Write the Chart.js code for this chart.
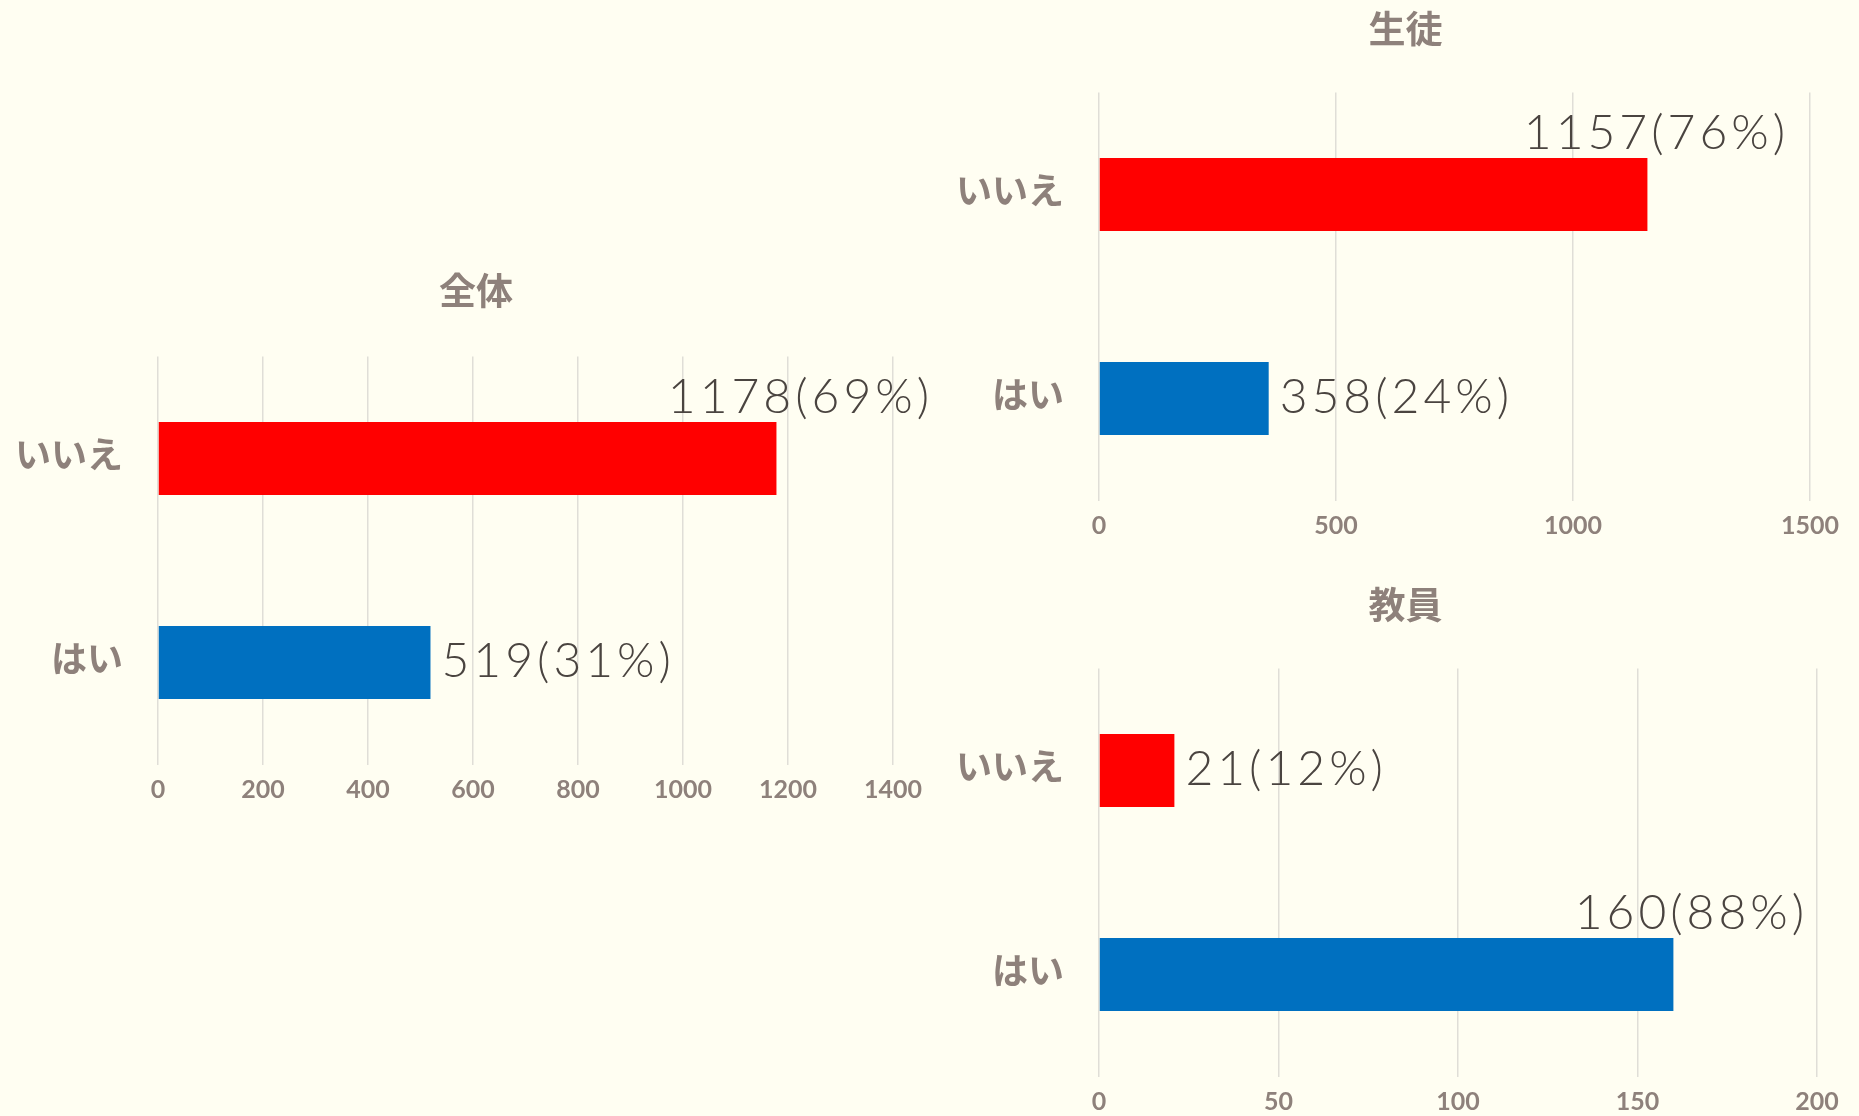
<!DOCTYPE html>
<html>
<head>
<meta charset="utf-8">
<script src="https://cdn.jsdelivr.net/npm/chart.js@4/dist/chart.umd.min.js"></script>
<style>
  html, body { margin: 0; padding: 0; background: #FFFEF2; }
  body { width: 1859px; height: 1116px; position: relative; overflow: hidden; }
  canvas { position: absolute; }
</style>
</head>
<body>
<canvas id="allChart" width="952" height="565" style="left:0;top:250px"></canvas>
<canvas id="studentChart" width="907" height="551" style="left:952px;top:0"></canvas>
<canvas id="teacherChart" width="907" height="556" style="left:952px;top:560px"></canvas>
<script>
const categories = ["いいえ", "はい"];
const barColors = ["#FF0000", "#0070C0"];

const allValues = [1178, 519];
const studentValues = [1157, 358];
const teacherValues = [21, 160];

const titles = ["全体", "生徒", "教員"];

const tickColor = "#8E817B";
const labelColor = "#4A4440";
const gridColor = "#E0DED7";

// value(pct%) labels, right of the bar or above its end when there is no room
const barLabels = {
    id: "barLabels",
    beforeDraw(chart) {
        // let the category labels run past the narrow y scale box
        chart.scales.y._computeLabelArea = () => null;
    },
    afterDatasetsDraw(chart, args, opts) {
        const { ctx, chartArea } = chart;
        const values = chart.data.datasets[0].data;
        const total = values.reduce((a, b) => a + b, 0);
        const meta = chart.getDatasetMeta(0);
        ctx.save();
        ctx.font = "300 48px Lato";
        if ("letterSpacing" in ctx) ctx.letterSpacing = "4px";
        ctx.fillStyle = labelColor;
        ctx.textBaseline = "alphabetic";
        meta.data.forEach((bar, i) => {
            const v = values[i];
            const text = v + "(" + Math.round(v / total * 100) + "%)";
            const w = ctx.measureText(text).width;
            if (bar.x + 11 + w > chartArea.right) {
                ctx.textAlign = "center";
                ctx.fillText(text, bar.x + opts.shift, bar.y - bar.height / 2 - 9);
            } else {
                ctx.textAlign = "left";
                ctx.fillText(text, bar.x + 11, bar.y + 14.5);
            }
        });
        ctx.restore();
    }
};

function makeChart(id, title, values, max, step, box) {
    const ctx = document.getElementById(id).getContext("2d");
    return new Chart(ctx, {
        type: "bar",
        data: {
            labels: categories,
            datasets: [{
                data: values,
                backgroundColor: barColors,
                borderWidth: 0,
                categoryPercentage: 1,
                barPercentage: 0.358
            }]
        },
        options: {
            indexAxis: "y",
            responsive: false,
            animation: false,
            layout: { padding: { left: box.side, right: box.side, top: 0, bottom: 0 } },
            plugins: {
                legend: { display: false },
                tooltip: { enabled: false },
                title: {
                    display: true,
                    text: title,
                    color: tickColor,
                    font: { family: "'Noto Sans CJK JP'", size: 37, weight: "bold" },
                    padding: { top: box.titleTop, bottom: box.titleBottom }
                },
                barLabels: { shift: box.shift }
            },
            scales: {
                x: {
                    min: 0,
                    max: max,
                    ticks: {
                        stepSize: step,
                        color: tickColor,
                        padding: 10.5,
                        font: { family: "Lato", size: 25, weight: "bold" },
                        callback: v => String(v)
                    },
                    grid: { color: gridColor, lineWidth: 1.5, drawTicks: false },
                    border: { display: false },
                    afterFit(scale) {
                        scale.height = box.xHeight;
                        scale.paddingLeft = 0;
                        scale.paddingRight = 0;
                    }
                },
                y: {
                    ticks: {
                        color: tickColor,
                        padding: 35,
                        labelOffset: -4,
                        font: { family: "'Noto Sans CJK JP'", size: 36, weight: "bold" }
                    },
                    grid: { display: false, drawTicks: false },
                    border: { display: false },
                    afterFit(scale) {
                        scale.width = box.yWidth;
                        scale.paddingTop = 0;
                        scale.paddingBottom = 0;
                    }
                }
            }
        },
        plugins: [barLabels]
    });
}

makeChart("allChart", titles[0], allValues, 1400, 200,
    { side: 59, yWidth: 99, xHeight: 50.5, titleTop: 18.8, titleBottom: 43.3, shift: 24 });
makeChart("studentChart", titles[1], studentValues, 1500, 500,
    { side: 49, yWidth: 98, xHeight: 50.5, titleTop: 6.3, titleBottom: 41.8, shift: 9 });
makeChart("teacherChart", titles[2], teacherValues, 200, 50,
    { side: 42, yWidth: 105, xHeight: 39.5, titleTop: 22.8, titleBottom: 41.3, shift: 18 });
</script>
</body>
</html>
